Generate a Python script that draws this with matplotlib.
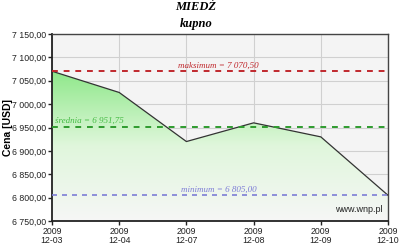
import numpy as np
import matplotlib
matplotlib.use("Agg")
import matplotlib.pyplot as plt
from matplotlib.colors import LinearSegmentedColormap

dates = ["2009\n12-03", "2009\n12-04", "2009\n12-07", "2009\n12-08", "2009\n12-09", "2009\n12-10"]
prices = [7070.50, 7025.0, 6920.0, 6960.0, 6930.0, 6805.0]
max_val = 7070.50
mean_val = 6951.75
min_val = 6805.00
yticks = [6750, 6800, 6850, 6900, 6950, 7000, 7050, 7100, 7150]


def fmt(v):
    s = f"{v:,.2f}"
    return s.replace(",", " ").replace(".", ",")


fig = plt.figure(figsize=(4.0, 2.45), dpi=100)
ax = fig.add_axes([0.13, 0.098, 0.84, 0.763])
ax.set_facecolor("#f4f4f4")

x = np.arange(len(prices))
ax.set_xlim(0, len(prices) - 1)
ax.set_ylim(6750, 7150)

# gradient fill under the line
cmap = LinearSegmentedColormap.from_list("g", ["#f6f6f6", "#e0f7dc", "#8fe88a"])
grad = np.linspace(0, 1, 256).reshape(-1, 1)
im = ax.imshow(grad, cmap=cmap, aspect="auto", origin="lower",
               extent=[0, len(prices) - 1, 6750, max(prices)], zorder=1)
poly = ax.fill_between(x, prices, 6750, color="none")
clip = poly.get_paths()[0]
im.set_clip_path(clip, transform=ax.transData)

ax.plot(x, prices, color="#333333", lw=0.9, zorder=3)

ax.grid(True, color="#d0d0d0", lw=0.8, zorder=0)
ax.set_axisbelow(True)

ax.axhline(max_val, color="#c0282d", lw=1.4, ls=(0, (3, 3)), zorder=4)
ax.axhline(mean_val, color="#2e9b2e", lw=1.4, ls=(0, (3, 3)), zorder=4)
ax.axhline(min_val, color="#7d7dd6", lw=1.2, ls=(0, (3, 3)), zorder=4)

lab = dict(family="Liberation Serif", style="italic", fontsize=6.5)
ax.text(2.48, max_val + 3, "maksimum = " + fmt(max_val), color="#c0282d", ha="center", va="bottom", **lab)
ax.text(0.05, mean_val + 3, "średnia = " + fmt(mean_val), color="#44bb44", ha="left", va="bottom", **lab)
ax.text(2.48, min_val + 3, "minimum = " + fmt(min_val), color="#7d7dd6", ha="center", va="bottom", **lab)

ax.text(0.985, 0.04, "www.wnp.pl", transform=ax.transAxes, ha="right", va="bottom",
        fontsize=6.5, family="Liberation Sans", color="#222222")

ax.set_xticks(x)
ax.set_xticklabels(dates, fontsize=6.3, linespacing=1.0, family="Liberation Sans")
ax.set_yticks(yticks)
ax.set_yticklabels([fmt(v) for v in yticks], fontsize=6.3, family="Liberation Sans")
ax.tick_params(axis="both", direction="out", length=3, width=1, pad=1, colors="#222222")
ax.set_ylabel("Cena [USD]", fontsize=7.5, fontweight="bold", family="Liberation Sans")
ax.yaxis.set_label_coords(-0.115, 0.5)

for s in ["left", "bottom"]:
    ax.spines[s].set_linewidth(1.3)
    ax.spines[s].set_color("#222222")
for s in ["top", "right"]:
    ax.spines[s].set_linewidth(1.0)
    ax.spines[s].set_color("#444444")

fig.text(0.49, 0.995, "MIEDŹ", ha="center", va="top", family="Liberation Serif",
         style="italic", fontweight="bold", fontsize=9)
fig.text(0.49, 0.925, "kupno", ha="center", va="top", family="Liberation Serif",
         style="italic", fontweight="bold", fontsize=9)

fig.savefig("out.png", dpi=100)
